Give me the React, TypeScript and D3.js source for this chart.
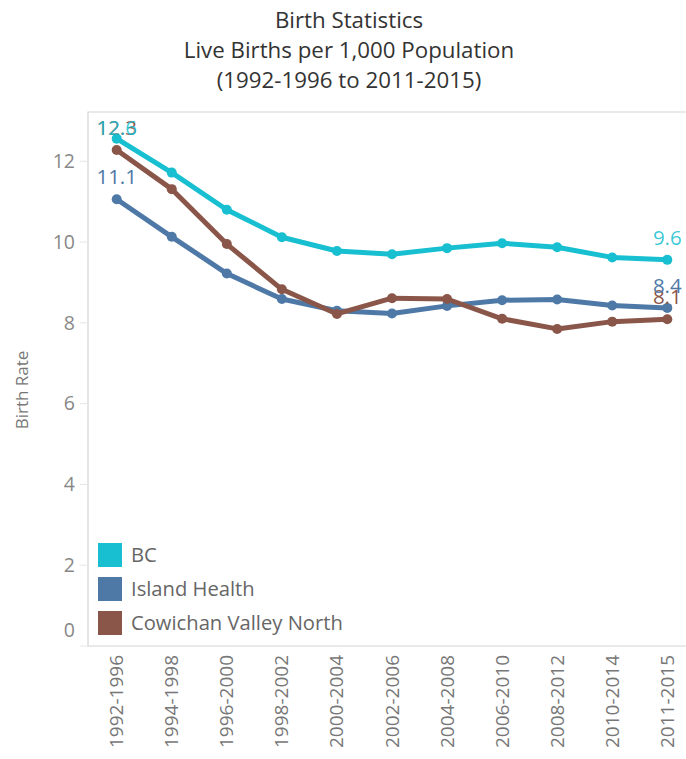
import React, { useEffect, useRef } from 'react';
import * as d3 from 'd3';

const periods = [
  '1992-1996', '1994-1998', '1996-2000', '1998-2002', '2000-2004', '2002-2006',
  '2004-2008', '2006-2010', '2008-2012', '2010-2014', '2011-2015',
];

const seriesNames = ['BC', 'Island Health', 'Cowichan Valley North'];

const bcValues = [12.56, 11.72, 10.8, 10.12, 9.78, 9.7, 9.85, 9.97, 9.87, 9.62, 9.56];
const islandHealthValues = [11.06, 10.13, 9.22, 8.59, 8.3, 8.23, 8.42, 8.56, 8.58, 8.43, 8.37];
const cowichanValues = [12.28, 11.31, 9.95, 8.83, 8.22, 8.61, 8.59, 8.1, 7.85, 8.03, 8.09];

const yTicks = [0, 2, 4, 6, 8, 10, 12];

const titleLines = [
  'Birth Statistics',
  'Live Births per 1,000 Population',
  '(1992-1996 to 2011-2015)',
];

const colors = ['#17bfd0', '#4e79a7', '#8a5649'];

const FONT = '"Open Sans", "Noto Sans", sans-serif';

function BirthChart({ width = 686, height = 759 }) {
  const svgRef = useRef<SVGSVGElement>(null);

  useEffect(() => {
    if (!svgRef.current) return;
    const svg = d3.select(svgRef.current);
    svg.selectAll('*').remove();

    const pane = { left: 88, right: 686, top: 112, bottom: 646 };

    const xScale = d3.scalePoint<string>()
      .domain(periods)
      .range([116.7, 667.3]);

    const yScale = d3.scaleLinear()
      .domain([0, 13.22])
      .range([pane.bottom, pane.top]);

    // Title
    svg.append('g')
      .selectAll('text')
      .data(titleLines)
      .enter().append('text')
      .attr('x', 349)
      .attr('y', (d, i) => 28 + i * 30)
      .attr('text-anchor', 'middle')
      .style('font-family', FONT)
      .style('font-size', '22.3px')
      .style('fill', '#333')
      .text(d => d);

    // Pane border (top, left, bottom)
    svg.append('path')
      .attr('d', `M${pane.right},${pane.top}H${pane.left}V${pane.bottom}H${pane.right}`)
      .attr('fill', 'none')
      .attr('stroke', '#d4d4d4')
      .attr('stroke-width', 1.2);

    // Y ticks and labels
    const yAxis = svg.append('g');
    yAxis.selectAll('line')
      .data(yTicks)
      .enter().append('line')
      .attr('x1', 80)
      .attr('x2', pane.left)
      .attr('y1', d => yScale(d))
      .attr('y2', d => yScale(d))
      .attr('stroke', '#e6e6e6');
    yAxis.selectAll('text')
      .data(yTicks)
      .enter().append('text')
      .attr('x', 75)
      .attr('y', d => Math.min(yScale(d), pane.bottom - 16))
      .attr('dy', '0.35em')
      .attr('text-anchor', 'end')
      .style('font-family', FONT)
      .style('font-size', '19.5px')
      .style('fill', '#888')
      .text(d => d);

    svg.append('text')
      .attr('transform', 'translate(28,390) rotate(-90)')
      .attr('text-anchor', 'middle')
      .style('font-family', FONT)
      .style('font-size', '17px')
      .style('fill', '#777')
      .text('Birth Rate');

    // X labels
    svg.append('g')
      .selectAll('text')
      .data(periods)
      .enter().append('text')
      .attr('transform', d => `translate(${xScale(d)! + 6.5},655) rotate(-90)`)
      .attr('text-anchor', 'end')
      .style('font-family', FONT)
      .style('font-size', '19px')
      .style('fill', '#777')
      .text(d => d);

    const series = [bcValues, islandHealthValues, cowichanValues].map((values, i) => ({
      name: seriesNames[i],
      color: colors[i],
      points: values.map((v, j) => ({ period: periods[j], value: v })),
    }));

    const line = d3.line<{ period: string; value: number }>()
      .x(d => xScale(d.period)!)
      .y(d => yScale(d.value));

    [0, 1, 2].forEach(i => {
      const s = series[i];
      const g = svg.append('g');
      g.append('path')
        .datum(s.points)
        .attr('fill', 'none')
        .attr('stroke', s.color)
        .attr('stroke-width', 5)
        .attr('stroke-linejoin', 'round')
        .attr('d', line);
      g.selectAll('circle')
        .data(s.points)
        .enter().append('circle')
        .attr('cx', d => xScale(d.period)!)
        .attr('cy', d => yScale(d.value))
        .attr('r', 5)
        .attr('fill', s.color);
    });

    // First and last value labels
    [2, 1, 0].forEach(i => {
      const s = series[i];
      const ends = [s.points[0], s.points[s.points.length - 1]];
      svg.append('g')
        .selectAll('text')
        .data(ends)
        .enter().append('text')
        .attr('x', d => xScale(d.period)!)
        .attr('y', d => Math.max(yScale(d.value) - 22, pane.top + 16))
        .attr('dy', '0.35em')
        .attr('text-anchor', 'middle')
        .style('font-family', FONT)
        .style('font-size', '20.5px')
        .style('fill', s.color)
        .style('fill-opacity', i === 0 ? 0.85 : 1)
        .text(d => d.value.toFixed(1));
    });

    // Legend
    const legend = svg.append('g')
      .selectAll('g')
      .data(series)
      .enter().append('g')
      .attr('transform', (d, i) => `translate(98,${543 + i * 34})`);
    legend.append('rect')
      .attr('width', 24)
      .attr('height', 24)
      .attr('fill', d => d.color);
    legend.append('text')
      .attr('x', 33)
      .attr('y', 12)
      .attr('dy', '0.35em')
      .style('font-family', FONT)
      .style('font-size', '20.2px')
      .style('fill', '#666')
      .text(d => d.name);
  }, [width, height]);

  return (
    <svg
      ref={svgRef}
      width={width}
      height={height}
      style={{ position: 'absolute', left: 0, top: 0, background: '#fff' }}
    ></svg>
  );
}

export default function App() {
  return <BirthChart />;
}
